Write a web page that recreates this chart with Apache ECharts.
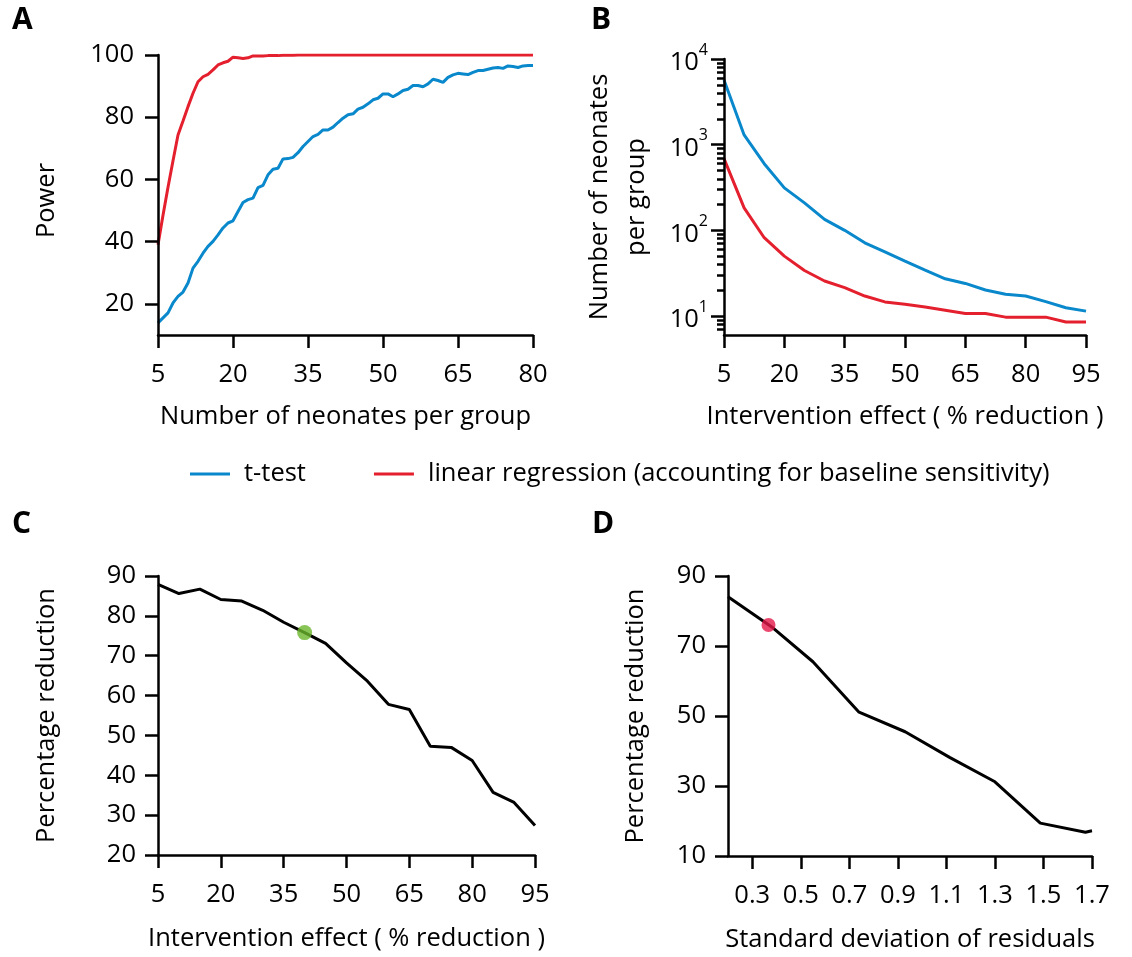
<!DOCTYPE html>
<html>
<head>
<meta charset="utf-8">
<script src="https://cdn.jsdelivr.net/npm/echarts@6/dist/echarts.min.js"></script>
<style>
  html, body { margin: 0; padding: 0; background: #fff; }
  #chart { width: 1132px; height: 957px; }
</style>
</head>
<body>
<div id="chart"></div>
<script>
// ---- Panel A: power vs. number of neonates per group ----
const neonatesA = [5, 6, 7, 8, 9, 10, 11, 12, 13, 14, 15, 16, 17, 18, 19, 20, 21, 22, 23, 24,
  25, 26, 27, 28, 29, 30, 31, 32, 33, 34, 35, 36, 37, 38, 39, 40, 41, 42, 43, 44,
  45, 46, 47, 48, 49, 50, 51, 52, 53, 54, 55, 56, 57, 58, 59, 60, 61, 62, 63, 64,
  65, 66, 67, 68, 69, 70, 71, 72, 73, 74, 75, 76, 77, 78, 79, 80];
const powerTtest = [13.9, 15.5, 17.1, 20.3, 22.4, 23.8, 26.7, 31.5, 33.7, 36.3, 38.5, 40.1, 42.2, 44.4, 46.0, 46.7, 49.7, 52.6, 53.5, 54.0,
  57.4, 58.1, 61.5, 63.3, 63.6, 66.6, 66.7, 67.1, 68.6, 70.6, 72.2, 73.8, 74.5, 75.9, 75.9, 76.8, 78.3, 79.7, 80.8, 81.1,
  82.6, 83.2, 84.3, 85.6, 86.1, 87.5, 87.5, 86.6, 87.5, 88.6, 89.0, 90.2, 90.2, 89.8, 90.7, 92.2, 91.8, 91.2, 92.8, 93.6,
  94.1, 93.9, 93.7, 94.4, 95.0, 95.0, 95.4, 95.8, 96.0, 95.7, 96.5, 96.3, 96.0, 96.5, 96.6, 96.6];
const powerRegression = [39.0, 48.5, 57.5, 66.0, 74.3, 78.8, 83.4, 87.7, 91.4, 93.0, 93.8, 95.2, 96.8, 97.5, 98.0, 99.3, 99.1, 98.9, 99.1, 99.7,
  99.7, 99.7, 99.8, 99.8, 99.8, 99.9, 99.9, 99.9, 100, 100, 100, 100, 100, 100, 100, 100, 100, 100, 100, 100,
  100, 100, 100, 100, 100, 100, 100, 100, 100, 100, 100, 100, 100, 100, 100, 100, 100, 100, 100, 100,
  100, 100, 100, 100, 100, 100, 100, 100, 100, 100, 100, 100, 100, 100, 100, 100];
const ticksA_x = [5, 20, 35, 50, 65, 80];
const ticksA_y = [20, 40, 60, 80, 100];

// ---- Panel B: sample size needed vs. intervention effect ----
const effectB = [5, 10, 15, 20, 25, 30, 35, 40, 45, 50, 55, 60, 65, 70, 75, 80, 85, 90, 95];
const sizeTtest = [5690, 1300, 600, 313, 209, 134, 100, 71.5, 56, 43.6, 34.3, 27.2, 24, 20.1, 17.9, 17.1, 14.7, 12.5, 11.4];
const sizeRegression = [686, 183, 82, 50, 34, 25.6, 21.4, 17.1, 14.6, 13.7, 12.7, 11.7, 10.7, 10.7, 9.7, 9.7, 9.7, 8.5, 8.5];
const ticksB_x = [5, 20, 35, 50, 65, 80, 95];
const ticksB_major = [10, 100, 1000, 10000];
const ticksB_minor = [7, 8, 9, 20, 30, 40, 50, 60, 70, 80, 90, 200, 300, 400, 500, 600, 700, 800, 900,
  2000, 3000, 4000, 5000, 6000, 7000, 8000, 9000];

// ---- Panel C: percentage reduction vs. intervention effect ----
const effectC = [5, 10, 15, 20, 25, 30, 35, 40, 45, 50, 55, 60, 65, 70, 75, 80, 85, 90, 95];
const reductionC = [87.9, 85.6, 86.7, 84.1, 83.7, 81.4, 78.4, 75.8, 73.1, 68.2, 63.6, 57.8, 56.5, 47.3, 47.0, 43.7, 35.7, 33.2, 27.4];
const highlightC = [40, 75.8];
const ticksC_x = [5, 20, 35, 50, 65, 80, 95];
const ticksC_y = [20, 30, 40, 50, 60, 70, 80, 90];

// ---- Panel D: percentage reduction vs. residual SD ----
const sdD = [0.2, 0.385, 0.55, 0.74, 0.93, 1.115, 1.30, 1.487, 1.673, 1.7];
const reductionD = [84.1, 75.2, 65.5, 51.1, 45.5, 38.1, 31.2, 19.4, 16.8, 17.2];
const highlightD = [0.367, 76.0];
const ticksD_x = [0.3, 0.5, 0.7, 0.9, 1.1, 1.3, 1.5, 1.7];
const ticksD_y = [10, 30, 50, 70, 90];

const nameTtest = 't-test';
const nameRegression = 'linear regression (accounting for baseline sensitivity)';

const BLUE = '#0a88cc';
const RED = '#e5202e';
const FONT = '"Open Sans", "Liberation Sans", sans-serif';
const FS = 25.5;

function axis(opts) {
  return {
    type: opts.type || 'value',
    gridIndex: opts.grid,
    position: opts.position,
    min: opts.min,
    max: opts.max,
    name: opts.name || '',
    nameLocation: 'middle',
    nameGap: opts.nameGap || 60,
    nameTextStyle: { color: '#000', fontSize: FS, fontFamily: FONT,
      lineHeight: opts.nameLineHeight, padding: opts.namePadding || 0 },
    axisLine: { show: opts.line !== false, onZero: false, lineStyle: { color: '#000', width: 2.5 } },
    axisTick: { show: true, inside: false, length: opts.tickLen || 13, customValues: opts.ticks,
      lineStyle: { color: '#000', width: 2.5 } },
    axisLabel: { show: opts.labels !== false, color: '#000', fontSize: FS, fontFamily: FONT,
      margin: opts.margin || 20, customValues: opts.ticks, formatter: opts.formatter, rich: opts.rich,
      showMinLabel: true, showMaxLabel: true, hideOverlap: false },
    splitLine: { show: false },
    minorTick: { show: false },
    z: 5
  };
}

function panelLetter(ch, x, y) {
  return { type: 'text', left: x, top: y,
    style: { text: ch, fontSize: 30, fontWeight: 'bold', fontFamily: FONT, fill: '#000' } };
}

const option = {
  animation: false,
  backgroundColor: '#fff',
  textStyle: { fontFamily: FONT },
  grid: [
    { left: 158, top: 55, width: 375, height: 280, outerBoundsMode: 'none' },
    { left: 724, top: 59, width: 362, height: 276, outerBoundsMode: 'none' },
    { left: 158, top: 576, width: 377, height: 279, outerBoundsMode: 'none' },
    { left: 728, top: 576, width: 364, height: 280, outerBoundsMode: 'none' }
  ],
  xAxis: [
    axis({ grid: 0, min: 5, max: 80, ticks: ticksA_x, name: 'Number of neonates per group', nameGap: 69, margin: 27 }),
    axis({ grid: 1, min: 5, max: 95, ticks: ticksB_x, name: 'Intervention effect ( % reduction )', nameGap: 69, margin: 27 }),
    axis({ grid: 2, min: 5, max: 95, ticks: ticksC_x, name: 'Intervention effect ( % reduction )', nameGap: 71, margin: 27 }),
    axis({ grid: 3, min: 0.2, max: 1.7, ticks: ticksD_x, name: 'Standard deviation of residuals', nameGap: 71, margin: 27 })
  ],
  yAxis: [
    axis({ grid: 0, min: 10, max: 100, ticks: ticksA_y, name: 'Power', nameGap: 98, margin: 24,
      namePadding: [0, 11, 0, 0] }),
    axis({ grid: 1, type: 'log', position: 'left', min: 6, max: 10000, ticks: ticksB_major,
      name: 'Number of neonates\nper group', nameGap: 69, nameLineHeight: 37, margin: 16,
      formatter: function (v) {
        const e = Math.round(Math.log10(v));
        return '{b|10}{s|' + e + '}';
      },
      rich: {
        b: { fontSize: FS, fontFamily: FONT, color: '#000', lineHeight: 34, verticalAlign: 'bottom' },
        s: { fontSize: 16, fontFamily: FONT, color: '#000', lineHeight: 34, verticalAlign: 'top' }
      } }),
    axis({ grid: 1, type: 'log', position: 'left', min: 6, max: 10000, ticks: ticksB_minor,
      labels: false, line: false, tickLen: 7 }),
    axis({ grid: 2, min: 20, max: 90, ticks: ticksC_y, name: 'Percentage reduction', nameGap: 98, margin: 22 }),
    axis({ grid: 3, min: 10, max: 90, ticks: ticksD_y, name: 'Percentage reduction', nameGap: 79, margin: 22 })
  ],
  legend: {
    left: 190,
    top: 461,
    padding: 0,
    itemWidth: 40,
    itemHeight: 3,
    itemGap: 68,
    icon: 'rect',
    textStyle: { color: '#000', fontSize: FS, fontFamily: FONT, padding: [0, 0, 0, 9] },
    data: [nameTtest, nameRegression]
  },
  graphic: [
    panelLetter('A', 12, 5),
    panelLetter('B', 591, 5),
    panelLetter('C', 12, 509),
    panelLetter('D', 592, 509)
  ],
  series: [
    { name: nameTtest, type: 'line', xAxisIndex: 0, yAxisIndex: 0, showSymbol: false, symbol: 'none',
      color: BLUE, lineStyle: { width: 3, color: BLUE },
      data: neonatesA.map((x, i) => [x, powerTtest[i]]) },
    { name: nameRegression, type: 'line', xAxisIndex: 0, yAxisIndex: 0, showSymbol: false, symbol: 'none',
      color: RED, lineStyle: { width: 3, color: RED },
      data: neonatesA.map((x, i) => [x, powerRegression[i]]) },
    { name: nameTtest, type: 'line', xAxisIndex: 1, yAxisIndex: 1, showSymbol: false, symbol: 'none',
      color: BLUE, lineStyle: { width: 3, color: BLUE },
      data: effectB.map((x, i) => [x, sizeTtest[i]]) },
    { name: nameRegression, type: 'line', xAxisIndex: 1, yAxisIndex: 1, showSymbol: false, symbol: 'none',
      color: RED, lineStyle: { width: 3, color: RED },
      data: effectB.map((x, i) => [x, sizeRegression[i]]) },
    { name: 'C', type: 'line', xAxisIndex: 2, yAxisIndex: 3, showSymbol: false, symbol: 'none',
      lineStyle: { width: 3, color: '#000' },
      data: effectC.map((x, i) => [x, reductionC[i]]) },
    { name: 'C point', type: 'scatter', xAxisIndex: 2, yAxisIndex: 3, symbolSize: 15, z: 10,
      itemStyle: { color: '#6cb52d' }, data: [highlightC] },
    { name: 'D', type: 'line', xAxisIndex: 3, yAxisIndex: 4, showSymbol: false, symbol: 'none',
      lineStyle: { width: 3, color: '#000' },
      data: sdD.map((x, i) => [x, reductionD[i]]) },
    { name: 'D point', type: 'scatter', xAxisIndex: 3, yAxisIndex: 4, symbolSize: 14, z: 10,
      itemStyle: { color: '#e5194a' }, data: [highlightD] }
  ]
};

const chart = echarts.init(document.getElementById('chart'), null, { renderer: 'canvas' });
chart.setOption(option);
</script>
</body>
</html>
